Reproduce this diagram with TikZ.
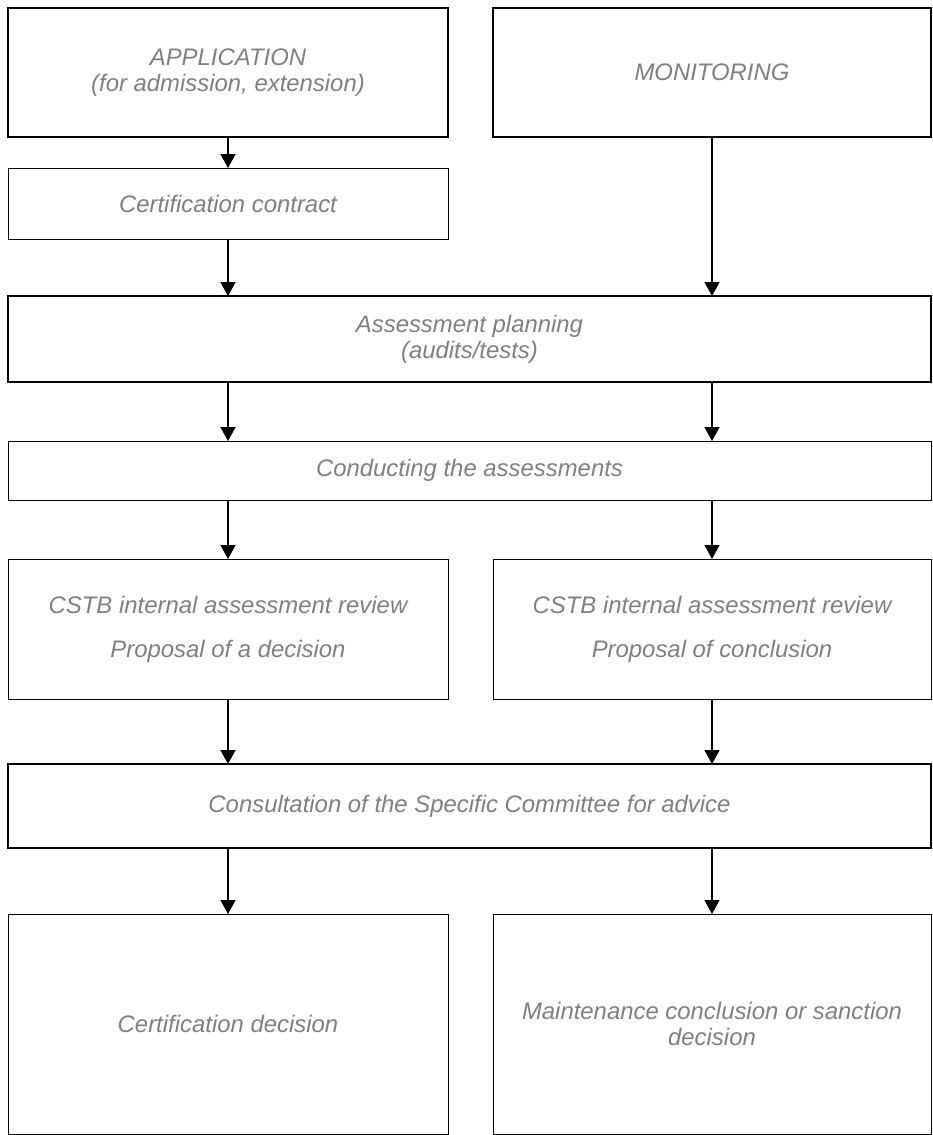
\documentclass[tikz,border=0pt]{standalone}
\usepackage{fontspec}
\setmainfont{Liberation Sans}
\usetikzlibrary{arrows.meta}
\definecolor{txtgray}{RGB}{128,128,128}
\begin{document}
\begin{tikzpicture}[x=1pt,y=-1pt,
  box/.style={draw=black,rectangle,inner sep=0pt,outer sep=0pt,anchor=north west,
    align=center,text=txtgray,font=\fontsize{23.9}{26}\selectfont\itshape},
  thickbox/.style={box,line width=2pt},
  medbox/.style={box,line width=1.5pt},
  thinbox/.style={box,line width=1pt},
  arr/.style={line width=1.5pt,-{Triangle[width=15pt,length=14pt]}}]
\useasboundingbox (0,0) rectangle (932,1135);
% left column x 8..448, right column x 493..931
\node[thickbox,minimum width=440pt,minimum height=129pt] (app) at (8,8)
  {APPLICATION\\(for admission, extension)};
\node[thickbox,minimum width=438pt,minimum height=129pt] (mon) at (493,8)
  {MONITORING};
\node[thinbox,minimum width=440pt,minimum height=71pt] (contract) at (8,168)
  {Certification contract};
\node[medbox,minimum width=923pt,minimum height=86pt] (plan) at (8,296)
  {Assessment planning\\(audits/tests)};
\node[thinbox,minimum width=923pt,minimum height=59pt] (cond) at (8,441)
  {Conducting the assessments};
\node[thinbox,minimum width=440pt,minimum height=140pt] (revl) at (8,559)
  {CSTB internal assessment review\\[18pt]Proposal of a decision};
\node[thinbox,minimum width=438pt,minimum height=140pt] (revr) at (493,559)
  {CSTB internal assessment review\\[18pt]Proposal of conclusion};
\node[thickbox,minimum width=923pt,minimum height=84pt] (cons) at (8,764)
  {Consultation of the Specific Committee for advice};
\node[thinbox,minimum width=440pt,minimum height=220pt] (decl) at (8,914)
  {Certification decision};
\node[thinbox,minimum width=438pt,minimum height=220pt] (decr) at (493,914)
  {Maintenance conclusion or sanction\\decision};
% connectors
\draw[arr] (app.south) -- (contract.north);
\draw[arr] (contract.south) -- (contract.south |- plan.north);
\draw[arr] (mon.south) -- (mon.south |- plan.north);
\draw[arr] (app.south |- plan.south) -- (app.south |- cond.north);
\draw[arr] (mon.south |- plan.south) -- (mon.south |- cond.north);
\draw[arr] (app.south |- cond.south) -- (revl.north);
\draw[arr] (mon.south |- cond.south) -- (revr.north);
\draw[arr] (revl.south) -- (revl.south |- cons.north);
\draw[arr] (revr.south) -- (revr.south |- cons.north);
\draw[arr] (revl.south |- cons.south) -- (decl.north);
\draw[arr] (revr.south |- cons.south) -- (decr.north);
\end{tikzpicture}
\end{document}
